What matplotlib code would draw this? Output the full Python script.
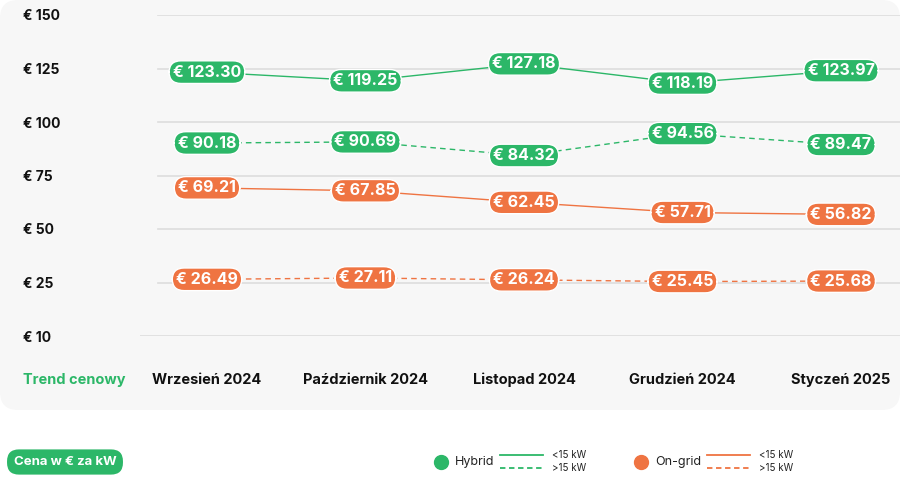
import matplotlib.pyplot as plt
from matplotlib.patches import FancyBboxPatch
from matplotlib.lines import Line2D
import matplotlib.transforms as mtransforms

plt.rcParams['font.family'] = ['Inter', 'DejaVu Sans']

months = ['Wrzesień 2024', 'Październik 2024', 'Listopad 2024', 'Grudzień 2024', 'Styczeń 2025']
hybrid_small = [123.30, 119.25, 127.18, 118.19, 123.97]
hybrid_large = [90.18, 90.69, 84.32, 94.56, 89.47]
ongrid_small = [69.21, 67.85, 62.45, 57.71, 56.82]
ongrid_large = [26.49, 27.11, 26.24, 25.45, 25.68]
y_ticks = [0, 25, 50, 75, 100, 125, 150]
y_labels = ['€ 10', '€ 25', '€ 50', '€ 75', '€ 100', '€ 125', '€ 150']

GREEN = '#2cb768'
ORANGE = '#ef7442'
W, H = 900, 496

fig = plt.figure(figsize=(9, 4.96), dpi=100)
fig.patch.set_facecolor('white')

# light grey panel behind the chart
panel = FancyBboxPatch((0, 86 / H), 1.0, 1 - 86 / H, boxstyle='round,pad=0,rounding_size=0.02',
                       transform=fig.transFigure, facecolor='#f7f7f7', edgecolor='none',
                       mutation_aspect=W / H, zorder=-5)
fig.patches.append(panel)

ax_left, ax_right = 140 / W, 1.0
ax_bottom, ax_top = 1 - 336 / H, 1 - 15 / H
ax = fig.add_axes([ax_left, ax_bottom, ax_right - ax_left, ax_top - ax_bottom], zorder=2)
ax.set_facecolor('none')
x = list(range(len(months)))
x0, step = 207, 158.5
ax.set_xlim((140 - x0) / step, (900 - x0) / step)
ax.set_ylim(0, 150)
for s in ax.spines.values():
    s.set_visible(False)
ax.set_xticks([])
ax.set_yticks(y_ticks)
ax.set_yticklabels(y_labels, fontsize=10, fontweight='bold', color='#111111')
for lab in ax.get_yticklabels():
    lab.set_horizontalalignment('left')
ax.tick_params(axis='y', length=0, pad=117 / (100 / 72))
for yt in y_ticks:
    ax.axhline(yt, xmin=0 if yt == 0 else 18 / 760, color='#dddddd', linewidth=1.2, zorder=1)

series = [
    (hybrid_small, GREEN, '-'),
    (hybrid_large, GREEN, (0, (4, 3))),
    (ongrid_small, ORANGE, '-'),
    (ongrid_large, ORANGE, (0, (4, 3))),
]
for vals, col, ls in series:
    ax.plot(x, vals, color=col, linestyle=ls, linewidth=1, zorder=2)
    for xi, v in zip(x, vals):
        ax.text(xi, v, f'€ {v:.2f}', ha='center', va='center', fontsize=11.5,
                fontweight='bold', color='white', zorder=3,
                bbox=dict(boxstyle='round,pad=0.24,rounding_size=0.75', facecolor=col,
                          edgecolor='white', linewidth=1))

trans = mtransforms.blended_transform_factory(ax.transData, ax.transAxes)
ylab = -(380 - 336) / (336 - 15)
for xi, m in zip(x, months):
    ax.text(xi, ylab, m, transform=trans, ha='center', va='center', fontsize=10.5,
            fontweight='bold', color='#111111')
fig.text(23 / W, 1 - 380 / H, 'Trend cenowy', ha='left', va='center',
         fontsize=10.5, fontweight='bold', color=GREEN)

# bottom legend area in pixel coordinates
lg = fig.add_axes([0, 0, 1, 1], zorder=1)
lg.set_xlim(0, W)
lg.set_ylim(H, 0)
lg.axis('off')
lg.set_facecolor('none')

lg.text(65, 462, 'Cena w € za kW', ha='center', va='center', fontsize=9.5, fontweight='bold',
        color='white', bbox=dict(boxstyle='round,pad=0.5,rounding_size=0.9', facecolor=GREEN,
                                 edgecolor='none'))

for cx, name, col, gap in [(441, 'Hybrid', GREEN, 59), (641, 'On-grid', ORANGE, 66)]:
    lg.plot([cx], [462], 'o', markersize=10, color=col)
    lg.text(cx + 14, 462, name, ha='left', va='center', fontsize=9, color='#222222')
    lx0 = cx + gap
    lg.add_line(Line2D([lx0, lx0 + 43], [455, 455], color=col, linewidth=1.3))
    lg.add_line(Line2D([lx0, lx0 + 43], [468, 468], color=col, linewidth=1.3, linestyle=(0, (3, 2))))
    lg.text(lx0 + 52, 455, '<15 kW', ha='left', va='center', fontsize=7, color='#222222')
    lg.text(lx0 + 52, 468, '>15 kW', ha='left', va='center', fontsize=7, color='#222222')

fig.savefig('out.png', dpi=100)
